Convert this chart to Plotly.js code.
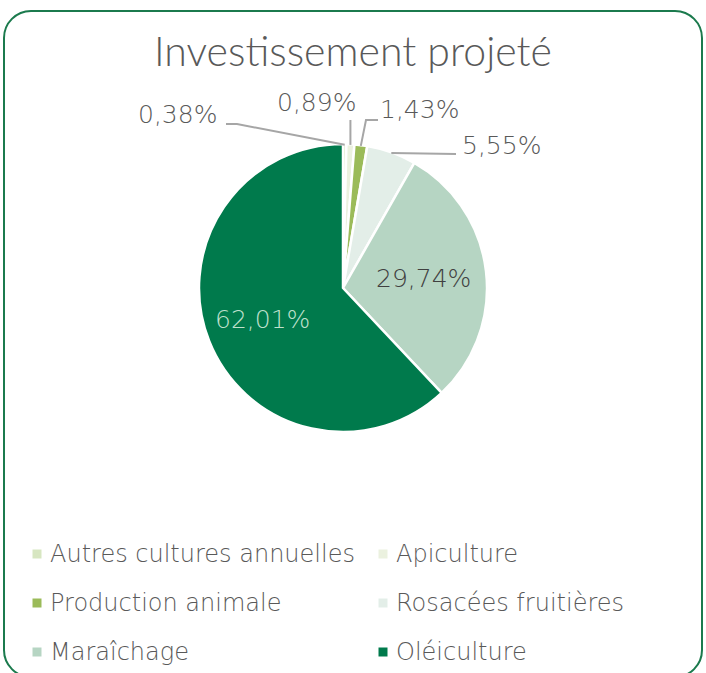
<!DOCTYPE html>
<html>
<head>
<meta charset="utf-8">
<script src="https://cdn.plot.ly/plotly-3.0.1.min.js"></script>
<style>
  html, body { margin: 0; padding: 0; background: #ffffff; }
  #wrap { position: relative; width: 706px; height: 673px; overflow: hidden; }
  #chart { position: absolute; left: 0; top: 0; width: 706px; height: 673px; }
  #frame { position: absolute; left: 3px; top: 10px; width: 696px; height: 664px;
           border: 2px solid #1b7a4d; border-radius: 28px; pointer-events: none; }
</style>
</head>
<body>
<div id="wrap">
  <div id="chart"></div>
  <div id="frame"></div>
</div>
<script>
// ---- data ----
const categories = ['Autres cultures annuelles', 'Apiculture', 'Production animale',
                    'Rosacées fruitières', 'Maraîchage', 'Oléiculture'];
const values = [0.38, 0.89, 1.43, 5.55, 29.74, 62.01];
const valueLabels = ['0,38%', '0,89%', '1,43%', '5,55%', '29,74%', '62,01%'];
const colors = ['#d7e6c1', '#ebf1df', '#9bbb59', '#e3eee8', '#b6d5c3', '#007a4c'];
const chartTitle = 'Investissement projeté';

// ---- layout constants (pixels) ----
const W = 706, H = 673;
const CX = 343, CY = 288, R = 144;
const TITLE_FONT = 'Lato, "Open Sans", sans-serif';
const FONT = '"DejaVu Sans", Lato, sans-serif';
const GREY = '#595959';
const px = x => x / W;
const py = y => 1 - y / H;

// mid-angle of each slice from data (clockwise from 12 o'clock)
const total = values.reduce((a, b) => a + b, 0);
const mids = [];
let cum = 0;
values.forEach(v => { mids.push((cum + v / 2) / total); cum += v; });
const polar = (frac, k) => {
  const t = 2 * Math.PI * frac;
  return [CX + R * k * Math.sin(t), CY - R * k * Math.cos(t)];
};

const pie = {
  type: 'pie',
  labels: categories,
  values: values,
  sort: false,
  direction: 'clockwise',
  rotation: 0,
  textinfo: 'none',
  hoverinfo: 'label+percent',
  marker: { colors: colors, line: { color: '#ffffff', width: 2.5 } },
  domain: { x: [px(CX - R), px(CX + R)], y: [py(CY + R), py(CY - R)] },
  showlegend: false
};

const annotations = [];
const shapes = [];

// outside labels with leader lines (label centres and elbow points: layout)
const outside = [
  { i: 0, lx: 177, ly: 114, path: [[226, 124], [237, 124]] },
  { i: 1, lx: 316, ly: 102, path: [[null, 120]] },
  { i: 2, lx: 419, ly: 110, path: [[378, 120], [366, 120]] },
  { i: 3, lx: 501, ly: 145, path: [[456, 154]] }
];
outside.forEach(o => {
  const e = polar(mids[o.i], 0.995);
  annotations.push({
    x: px(o.lx), y: py(o.ly), xref: 'paper', yref: 'paper',
    text: valueLabels[o.i], showarrow: false,
    font: { family: FONT, size: 25, color: GREY, weight: 200 },
    xanchor: 'center', yanchor: 'middle'
  });
  const pts = o.path.map(p => [p[0] === null ? e[0] : p[0], p[1]]).concat([e]);
  let d = '';
  pts.forEach((p, k) => { d += (k ? 'L' : 'M') + px(p[0]).toFixed(5) + ',' + py(p[1]).toFixed(5); });
  shapes.push({ type: 'path', xref: 'paper', yref: 'paper', path: d,
                line: { color: '#a6a6a6', width: 2 } });
});

// inside labels
const inside = [ { i: 4, k: 0.56, color: '#404040' }, { i: 5, k: 0.6, color: '#bfe0cc' } ];
inside.forEach(o => {
  const p = polar(mids[o.i], o.k);
  annotations.push({
    x: px(p[0]), y: py(p[1]), xref: 'paper', yref: 'paper',
    text: valueLabels[o.i], showarrow: false,
    font: { family: FONT, size: 25, color: o.color, weight: 200 },
    xanchor: 'center', yanchor: 'middle'
  });
});

// legend (2 columns)
const LEG_X = [37, 383], LEG_Y0 = 554, LEG_DY = 49, SQ = 9;
categories.forEach((c, i) => {
  const col = i % 2, row = Math.floor(i / 2);
  const x = LEG_X[col], y = LEG_Y0 + row * LEG_DY;
  shapes.push({ type: 'rect', xref: 'paper', yref: 'paper',
    x0: px(x - SQ / 2), x1: px(x + SQ / 2), y0: py(y + SQ / 2), y1: py(y - SQ / 2),
    fillcolor: colors[i], line: { width: 0 } });
  annotations.push({
    x: px(x + 11), y: py(y), xref: 'paper', yref: 'paper',
    text: c, showarrow: false,
    font: { family: FONT, size: 24, color: GREY, weight: 200 },
    xanchor: 'left', yanchor: 'middle'
  });
});

const layout = {
  width: W, height: H,
  margin: { l: 0, r: 0, t: 0, b: 0 },
  paper_bgcolor: '#ffffff',
  title: { text: chartTitle, x: 0.5, xanchor: 'center', y: py(52), yanchor: 'middle',
           font: { family: TITLE_FONT, size: 41, color: GREY, weight: 300 } },
  annotations: annotations,
  shapes: shapes,
  showlegend: false
};

Plotly.newPlot('chart', [pie], layout, { displayModeBar: false, staticPlot: true });
</script>
</body>
</html>
